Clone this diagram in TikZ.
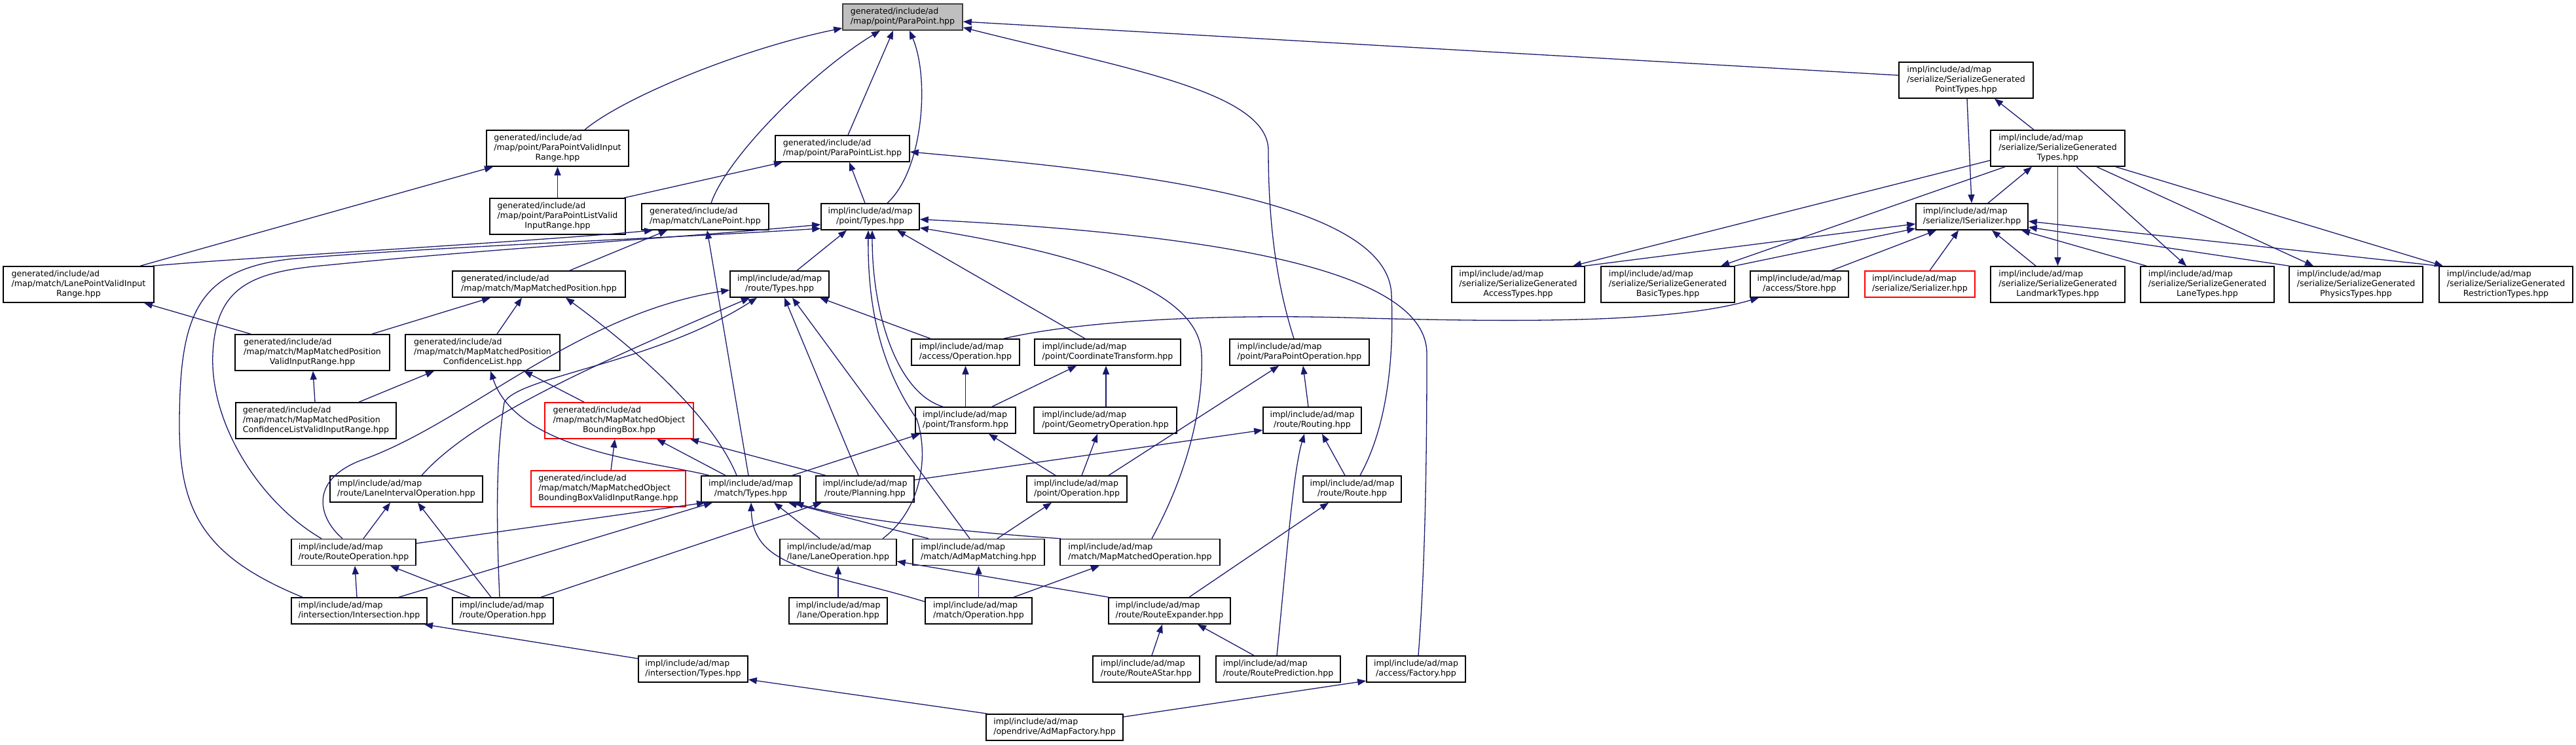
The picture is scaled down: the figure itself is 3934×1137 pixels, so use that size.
\documentclass[tikz,border=0pt]{standalone}
\usepackage{fontspec}
\setmainfont{DejaVu Sans}
\usetikzlibrary{arrows.meta}
\definecolor{edgec}{HTML}{191970}
\newcommand\lblfont{\fontsize{6.28pt}{7.5pt}\selectfont}
\newcommand\twol[2]{\begin{tabular}{@{}l@{}}#1\\\multicolumn{1}{@{}c@{}}{#2}\end{tabular}}
\newcommand\threel[3]{\begin{tabular}{@{}l@{}}#1\\#2\\\multicolumn{1}{@{}c@{}}{#3}\end{tabular}}
\begin{document}
\begin{tikzpicture}[x=0.5pt,y=-0.5pt,
  fbox/.style={draw=black, fill=white, line width=0.8pt, inner sep=0pt, font=\lblfont},
  rbox/.style={fbox, draw=red},
  rootbox/.style={fbox, fill=black!25, draw=black!75},
  two/.style={minimum height=20pt},
  three/.style={minimum height=27.5pt},
  dep/.style={draw=edgec, line width=0.65pt, -{Triangle[length=6.5pt,width=5pt]}}]
\fill[white] (0,0) rectangle (3934,1137);
\useasboundingbox (0,0) rectangle (3934,1137);
% ---------------- nodes ----------------
\node[rootbox,two,minimum width=91.5pt] (pp) at (1378.5,26) {\twol{generated/include/ad}{/map/point/ParaPoint.hpp}};
\node[fbox,three,minimum width=102.5pt] (sgpt) at (3002.5,122.5) {\threel{impl/include/ad/map}{/serialize/SerializeGenerated}{PointTypes.hpp}};
\node[fbox,three,minimum width=108.5pt] (ppvir) at (851.5,226.5) {\threel{generated/include/ad}{/map/point/ParaPointValidInput}{Range.hpp}};
\node[fbox,two,minimum width=102.5pt] (ppl) at (1286.5,227) {\twol{generated/include/ad}{/map/point/ParaPointList.hpp}};
\node[fbox,three,minimum width=102.5pt] (sgt) at (3142.5,226.5) {\threel{impl/include/ad/map}{/serialize/SerializeGenerated}{Types.hpp}};
\node[fbox,three,minimum width=103.5pt] (pplvir) at (851.5,330.5) {\threel{generated/include/ad}{/map/point/ParaPointListValid}{InputRange.hpp}};
\node[fbox,two,minimum width=97pt] (lanept) at (1077,331) {\twol{generated/include/ad}{/map/match/LanePoint.hpp}};
\node[fbox,two,minimum width=75pt] (ptypes) at (1329,331) {\twol{impl/include/ad/map}{/point/Types.hpp}};
\node[fbox,two,minimum width=85.5pt] (iser) at (3011.5,331) {\twol{impl/include/ad/map}{/serialize/ISerializer.hpp}};
\node[fbox,three,minimum width=115pt] (lpvir) at (120,434.5) {\threel{generated/include/ad}{/map/match/LanePointValidInput}{Range.hpp}};
\node[fbox,two,minimum width=132pt] (mmpos) at (823,434) {\twol{generated/include/ad}{/map/match/MapMatchedPosition.hpp}};
\node[fbox,two,minimum width=75.5pt] (rtypes) at (1190.5,434) {\twol{impl/include/ad/map}{/route/Types.hpp}};
\node[fbox,three,minimum width=101.5pt] (sgaccess) at (2318.5,434.5) {\threel{impl/include/ad/map}{/serialize/SerializeGenerated}{AccessTypes.hpp}};
\node[fbox,three,minimum width=102pt] (sgbasic) at (2547,434.5) {\threel{impl/include/ad/map}{/serialize/SerializeGenerated}{BasicTypes.hpp}};
\node[fbox,two,minimum width=75pt] (store) at (2748,434) {\twol{impl/include/ad/map}{/access/Store.hpp}};
\node[rbox,two,minimum width=84pt] (serializer) at (2932,434) {\twol{impl/include/ad/map}{/serialize/Serializer.hpp}};
\node[fbox,three,minimum width=102.5pt] (sgland) at (3142.5,434.5) {\threel{impl/include/ad/map}{/serialize/SerializeGenerated}{LandmarkTypes.hpp}};
\node[fbox,three,minimum width=102pt] (sglane) at (3371,434.5) {\threel{impl/include/ad/map}{/serialize/SerializeGenerated}{LaneTypes.hpp}};
\node[fbox,three,minimum width=102pt] (sgphys) at (3598,434.5) {\threel{impl/include/ad/map}{/serialize/SerializeGenerated}{PhysicsTypes.hpp}};
\node[fbox,three,minimum width=102pt] (sgrestr) at (3827,434.5) {\threel{impl/include/ad/map}{/serialize/SerializeGenerated}{RestrictionTypes.hpp}};
\node[fbox,three,minimum width=118pt] (mmpvir) at (477,538.5) {\threel{generated/include/ad}{/map/match/MapMatchedPosition}{ValidInputRange.hpp}};
\node[fbox,three,minimum width=118pt] (mmpcl) at (737,538.5) {\threel{generated/include/ad}{/map/match/MapMatchedPosition}{ConfidenceList.hpp}};
\node[fbox,two,minimum width=82.5pt] (aop) at (1474.5,538) {\twol{impl/include/ad/map}{/access/Operation.hpp}};
\node[fbox,two,minimum width=111.5pt] (ctrans) at (1691.5,538) {\twol{impl/include/ad/map}{/point/CoordinateTransform.hpp}};
\node[fbox,two,minimum width=106.5pt] (ppop) at (1984.5,538) {\twol{impl/include/ad/map}{/point/ParaPointOperation.hpp}};
\node[fbox,three,minimum width=122.5pt] (mmpclvir) at (482.5,642.5) {\threel{generated/include/ad}{/map/match/MapMatchedPosition}{ConfidenceListValidInputRange.hpp}};
\node[rbox,three,minimum width=113.5pt] (mmobb) at (945.5,642.5) {\threel{generated/include/ad}{/map/match/MapMatchedObject}{BoundingBox.hpp}};
\node[fbox,two,minimum width=76.5pt] (trans) at (1474.5,642) {\twol{impl/include/ad/map}{/point/Transform.hpp}};
\node[fbox,two,minimum width=109pt] (geo) at (1688,642) {\twol{impl/include/ad/map}{/point/GeometryOperation.hpp}};
\node[fbox,two,minimum width=75pt] (routing) at (2004,642) {\twol{impl/include/ad/map}{/route/Routing.hpp}};
\node[rbox,three,minimum width=118pt] (mmobbvir) at (929,746.5) {\threel{generated/include/ad}{/map/match/MapMatchedObject}{BoundingBoxValidInputRange.hpp}};
\node[fbox,two,minimum width=116.5pt] (lio) at (620.5,747) {\twol{impl/include/ad/map}{/route/LaneIntervalOperation.hpp}};
\node[fbox,two,minimum width=75.5pt] (mtypes) at (1146.5,747) {\twol{impl/include/ad/map}{/match/Types.hpp}};
\node[fbox,two,minimum width=75pt] (planning) at (1321,747) {\twol{impl/include/ad/map}{/route/Planning.hpp}};
\node[fbox,two,minimum width=76.5pt] (pop) at (1644.5,747) {\twol{impl/include/ad/map}{/point/Operation.hpp}};
\node[fbox,two,minimum width=75pt] (route) at (2065,747) {\twol{impl/include/ad/map}{/route/Route.hpp}};
\node[fbox,two,minimum width=95pt] (rop) at (540,843.5) {\twol{impl/include/ad/map}{/route/RouteOperation.hpp}};
\node[fbox,two,minimum width=89pt] (laneop) at (1280,843.5) {\twol{impl/include/ad/map}{/lane/LaneOperation.hpp}};
\node[fbox,two,minimum width=100.5pt] (amm) at (1494.5,843.5) {\twol{impl/include/ad/map}{/match/AdMapMatching.hpp}};
\node[fbox,two,minimum width=122pt] (mmop) at (1741,843.5) {\twol{impl/include/ad/map}{/match/MapMatchedOperation.hpp}};
\node[fbox,two,minimum width=103.5pt] (inter) at (548.5,933) {\twol{impl/include/ad/map}{/intersection/Intersection.hpp}};
\node[fbox,two,minimum width=77pt] (roper) at (768,933) {\twol{impl/include/ad/map}{/route/Operation.hpp}};
\node[fbox,two,minimum width=75pt] (lop) at (1280,933) {\twol{impl/include/ad/map}{/lane/Operation.hpp}};
\node[fbox,two,minimum width=81.5pt] (mop) at (1494.5,933) {\twol{impl/include/ad/map}{/match/Operation.hpp}};
\node[fbox,two,minimum width=93pt] (rexp) at (1786,933) {\twol{impl/include/ad/map}{/route/RouteExpander.hpp}};
\node[fbox,two,minimum width=83.5pt] (itypes) at (1058.5,1022) {\twol{impl/include/ad/map}{/intersection/Types.hpp}};
\node[fbox,two,minimum width=81.5pt] (rastar) at (1750.5,1022) {\twol{impl/include/ad/map}{/route/RouteAStar.hpp}};
\node[fbox,two,minimum width=95pt] (rpred) at (1952,1022) {\twol{impl/include/ad/map}{/route/RoutePrediction.hpp}};
\node[fbox,two,minimum width=75.5pt] (afactory) at (2162.5,1022) {\twol{impl/include/ad/map}{/access/Factory.hpp}};
\node[fbox,two,minimum width=104.5pt] (factory) at (1610.5,1111) {\twol{impl/include/ad/map}{/opendrive/AdMapFactory.hpp}};
% ---------------- edges into ParaPoint ----------------
\draw[dep] ([xshift=20.75pt]ppvir.north) .. controls (950,150) and (1130,75) .. ([yshift=-8.5pt]pp.west);
\draw[dep] ([xshift=4.5pt]lanept.north) .. controls (1110,240) and (1240,110) .. ([xshift=-17.25pt]pp.south);
\draw[dep] ([xshift=4.25pt]ppl.north) -- ([xshift=-7.25pt]pp.south);
\draw[dep] ([xshift=13pt]ptypes.north) .. controls (1410,260) and (1420,120) .. ([xshift=5.25pt]pp.south);
\draw[dep] ([yshift=3.75pt]sgpt.west) -- ([yshift=-3.5pt]pp.east);
\draw[dep] ([xshift=-4.25pt]ppop.north) .. controls (1945,420) and (1937,320) .. (1937,230) .. controls (1937,140) and (1720,105) .. ([yshift=-8pt]pp.east);
% ---------------- upper generated ----------------
\draw[dep] (pplvir.north) -- (ppvir.south);
\draw[dep] ([xshift=47pt]lpvir.north) -- ([xshift=-49.25pt]ppvir.south);
\draw[dep] ([xshift=50.75pt]pplvir.north) -- ([xshift=-45.75pt]ppl.south);
\draw[dep] ([xshift=-4pt]ptypes.north) -- ([xshift=5.25pt]ppl.south);
\draw[dep] ([xshift=6pt]route.north) .. controls (2125,640) and (2128,520) .. (2125,450) .. controls (2120,300) and (1700,260) .. ([yshift=-2.5pt]ppl.east);
\draw[dep] ([xshift=23.5pt]mmpos.north) -- ([xshift=-29pt]lanept.south);
\draw[dep] ([xshift=56.5pt]lpvir.north) .. controls (350,395) and (800,370) .. ([xshift=-40pt]lanept.south);
\draw[dep] ([xshift=-1.75pt]mtypes.north) -- ([xshift=1.5pt]lanept.south);
% ---------------- into point/Types ----------------
\draw[dep] ([xshift=13.25pt]rtypes.north) -- ([xshift=-18pt]ptypes.south);
\draw[dep] ([xshift=-17.25pt]trans.north) .. controls (1370,600) and (1332,480) .. ([xshift=1.5pt]ptypes.south);
\draw[dep] ([xshift=34pt]laneop.north) .. controls (1405,780) and (1420,700) .. (1400,640) .. controls (1345,560) and (1325,470) .. ([xshift=-1.5pt]ptypes.south);
\draw[dep] ([xshift=-17.25pt]ctrans.north) -- ([xshift=20.5pt]ptypes.south);
\draw[dep] ([xshift=9pt]mmop.north) .. controls (1815,720) and (1838,620) .. (1835,540) .. controls (1830,430) and (1600,380) .. ([yshift=-8.5pt]ptypes.east);
\draw[dep] ([xshift=1.75pt]afactory.north) .. controls (2178,850) and (2179,650) .. (2179,540) .. controls (2179,420) and (1900,360) .. ([yshift=-2pt]ptypes.east);
\draw[dep] ([xshift=-43.25pt]inter.north) .. controls (310,850) and (274,780) .. (274,650) .. controls (274,480) and (300,410) .. (450,395) .. controls (700,375) and (1000,365) .. ([yshift=-9pt]ptypes.west);
\draw[dep] ([xshift=-24.5pt]rop.north) .. controls (400,770) and (320,650) .. (325,540) .. controls (330,440) and (380,415) .. (500,405) .. controls (750,380) and (1050,362) .. ([yshift=-6pt]ptypes.west);
% ---------------- serialize ----------------
\draw[dep] ([xshift=-18.25pt]sgt.north) -- ([xshift=21.75pt]sgpt.south);
\draw[dep] ([xshift=0.75pt]sgpt.south) -- ([xshift=-0.25pt]iser.north);
\draw[dep] ([xshift=12.25pt]iser.north) -- ([xshift=-19.75pt]sgt.south);
\draw[dep] ([yshift=-9.25pt]sgt.west) -- ([xshift=41.75pt]sgaccess.north);
\draw[dep] ([xshift=-40.25pt]sgt.south) -- ([xshift=40.5pt]sgbasic.north);
\draw[dep] ([xshift=50.75pt]sgaccess.north) -- ([yshift=-5.5pt]iser.west);
\draw[dep] ([xshift=51pt]sgbasic.north) -- ([yshift=-9pt]iser.west);
\draw[dep] ([xshift=24.5pt]store.north) -- ([xshift=-27.25pt]iser.south);
\draw[dep] ([xshift=7.5pt]serializer.north) -- ([xshift=-10.25pt]iser.south);
\draw[dep] ([xshift=-16.75pt]sgland.north) -- ([xshift=15.25pt]iser.south);
\draw[dep] ([xshift=-46.5pt]sglane.north) -- ([xshift=37.75pt]iser.south);
\draw[dep] ([xshift=-51pt]sgphys.north) -- ([yshift=-8pt]iser.east);
\draw[dep] ([xshift=-51pt]sgrestr.north) -- ([yshift=-3.5pt]iser.east);
\draw[dep] (sgt.south) -- (sgland.north);
\draw[dep] ([xshift=14.25pt]sgt.south) -- ([xshift=-16pt]sglane.north);
\draw[dep] ([xshift=29.75pt]sgt.south) -- ([xshift=-32.5pt]sgphys.north);
\draw[dep] ([xshift=44.25pt]sgt.south) -- ([xshift=-48pt]sgrestr.north);
\draw[dep] ([xshift=29.25pt]aop.north) .. controls (1650,490) and (1850,480) .. (2050,485) .. controls (2300,492) and (2550,495) .. ([xshift=-31pt]store.south);
% ---------------- into route/Types ----------------
\draw[dep] ([xshift=-26.75pt]aop.north) -- ([xshift=30.75pt]rtypes.south);
\draw[dep] ([xshift=-8.5pt]rop.north) .. controls (485,790) and (470,730) .. (560,700) .. controls (720,640) and (880,480) .. ([yshift=-4.5pt]rtypes.west);
\draw[dep] ([xshift=11.75pt]lio.north) .. controls (720,640) and (900,560) .. ([xshift=-22.75pt]rtypes.south);
\draw[dep] ([xshift=-2.5pt]roper.north) .. controls (758,800) and (757,700) .. (770,615) .. controls (790,575) and (1000,555) .. ([xshift=-17.25pt]rtypes.south);
\draw[dep] ([xshift=-5pt]planning.north) -- ([xshift=3.75pt]rtypes.south);
\draw[dep] ([xshift=-6.75pt]amm.north) -- ([xshift=9.75pt]rtypes.south);
% ---------------- map matched ----------------
\draw[dep] ([xshift=45.5pt]mmpvir.north) -- ([xshift=-37pt]mmpos.south);
\draw[dep] ([xshift=11pt]mmpcl.north) -- ([xshift=-13pt]mmpos.south);
\draw[dep] ([xshift=-10.75pt]mtypes.north) .. controls (1090,640) and (980,540) .. ([xshift=20.5pt]mmpos.south);
\draw[dep] ([xshift=32.75pt]mmpclvir.north) -- ([xshift=-37pt]mmpcl.south);
\draw[dep] ([xshift=-0.75pt]mmpclvir.north) -- ([xshift=0.5pt]mmpvir.south);
\draw[dep] ([xshift=-47pt]mmpvir.north) -- ([xshift=50pt]lpvir.south);
\draw[dep] ([xshift=-26.75pt]mmobb.north) -- ([xshift=31.5pt]mmpcl.south);
\draw[dep] ([xshift=-31.75pt]mtypes.north) .. controls (1000,705) and (790,690) .. ([xshift=6pt]mmpcl.south);
\draw[dep] ([xshift=2pt]mmobbvir.north) -- ([xshift=-3.25pt]mmobb.south);
\draw[dep] ([xshift=-19.25pt]mtypes.north) -- ([xshift=28.75pt]mmobb.south);
\draw[dep] ([xshift=-30pt]planning.north) -- ([xshift=54.25pt]mmobb.south);
% ---------------- route ops ----------------
\draw[dep] ([xshift=7.5pt]rop.north) -- ([xshift=-12.25pt]lio.south);
\draw[dep] ([xshift=-9pt]roper.north) -- ([xshift=8.75pt]lio.south);
\draw[dep] ([xshift=-1.75pt]inter.north) -- ([xshift=1pt]rop.south);
\draw[dep] ([xshift=-25pt]roper.north) -- ([xshift=28pt]rop.south);
\draw[dep] ([yshift=6.75pt]rop.east) -- ([xshift=-34.75pt]mtypes.south);
\draw[dep] ([xshift=30.25pt]inter.north) -- ([xshift=-29.25pt]mtypes.south);
\draw[dep] ([xshift=29pt]roper.north) -- ([xshift=-33pt]planning.south);
% ---------------- point ops ----------------
\draw[dep] (trans.north) -- (aop.south);
\draw[dep] ([xshift=20.25pt]trans.north) -- ([xshift=-23.75pt]ctrans.south);
\draw[dep] ([xshift=0.5pt]geo.north) -- ([xshift=-1.25pt]ctrans.south);
\draw[dep] ([xshift=31.75pt]mtypes.north) -- ([xshift=-34.75pt]trans.south);
\draw[dep] ([xshift=-16.25pt]pop.north) -- ([xshift=17.75pt]trans.south);
\draw[dep] ([xshift=3.75pt]pop.north) -- ([xshift=-6pt]geo.south);
\draw[dep] ([xshift=24.25pt]pop.north) -- ([xshift=-15.75pt]ppop.south);
\draw[dep] ([xshift=-3pt]routing.north) -- ([xshift=2.75pt]ppop.south);
\draw[dep] ([yshift=7pt]planning.east) -- ([yshift=-7.5pt]routing.west);
\draw[dep] ([xshift=-5.5pt]route.north) -- ([xshift=7.5pt]routing.south);
\draw[dep] ([xshift=-1pt]rpred.north) .. controls (1965,850) and (1975,720) .. ([xshift=-6pt]routing.south);
\draw[dep] ([xshift=15pt]rexp.north) -- ([xshift=-18pt]route.south);
\draw[dep] ([xshift=14.25pt]amm.north) -- ([xshift=-19.25pt]pop.south);
% ---------------- match / lane ----------------
\draw[dep] ([xshift=-14pt]laneop.north) -- ([xshift=17.75pt]mtypes.south);
\draw[dep] ([xshift=-38.25pt]amm.north) -- ([xshift=28.75pt]mtypes.south);
\draw[dep] ([xshift=-60.5pt]mmop.north) .. controls (1500,815) and (1300,795) .. ([xshift=33.75pt]mtypes.south);
\draw[dep] ([yshift=7pt]mop.west) .. controls (1250,870) and (1150,870) .. ([xshift=0.25pt]mtypes.south);
\draw[dep] (lop.north) -- (laneop.south);
\draw[dep] ([xshift=-46.5pt]rexp.north) -- ([yshift=-7pt]laneop.east);
\draw[dep] (mop.north) -- (amm.south);
\draw[dep] ([xshift=26.75pt]mop.north) -- ([xshift=-31pt]mmop.south);
\draw[dep] ([xshift=4.25pt]rastar.north) -- ([xshift=-5.5pt]rexp.south);
\draw[dep] ([xshift=-18.5pt]rpred.north) -- ([xshift=21.5pt]rexp.south);
% ---------------- bottom ----------------
\draw[dep] ([yshift=8pt]itypes.west) -- ([xshift=49.75pt]inter.south);
\draw[dep] ([xshift=-51.25pt]factory.north) -- ([yshift=-8pt]itypes.east);
\draw[dep] ([yshift=8pt]factory.east) -- ([yshift=-9pt]afactory.west);
\end{tikzpicture}
\end{document}
